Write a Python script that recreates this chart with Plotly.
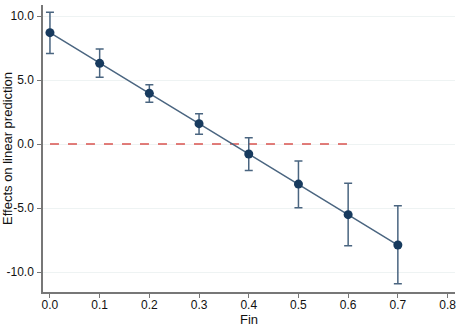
import plotly.graph_objects as go

fin = [0.0, 0.1, 0.2, 0.3, 0.4, 0.5, 0.6, 0.7]
effect = [8.70, 6.30, 3.96, 1.59, -0.78, -3.13, -5.52, -7.89]
ci_upper = [10.30, 7.42, 4.63, 2.37, 0.49, -1.33, -3.07, -4.82]
ci_lower = [7.08, 5.21, 3.26, 0.76, -2.06, -4.97, -7.94, -10.91]
ref_x = [0.0, 0.6]
ref_y = [0.0, 0.0]
x_ticks = [0.0, 0.1, 0.2, 0.3, 0.4, 0.5, 0.6, 0.7, 0.8]
x_labels = ["0.0", "0.1", "0.2", "0.3", "0.4", "0.5", "0.6", "0.7", "0.8"]
y_ticks = [-10, -5, 0, 5, 10]
y_labels = ["-10.0", "-5.0", "0.0", "5.0", "10.0"]

err_plus = [u - e for u, e in zip(ci_upper, effect)]
err_minus = [e - l for e, l in zip(effect, ci_lower)]

fig = go.Figure()
fig.add_trace(go.Scatter(
    x=ref_x, y=ref_y, mode="lines",
    line=dict(color="#d9534f", width=1.5, dash="dash"),
    hoverinfo="skip", showlegend=False))
fig.add_trace(go.Scatter(
    x=fin, y=effect, mode="lines+markers",
    line=dict(color="#4a6580", width=1.5),
    marker=dict(color="#173a5e", size=9),
    error_y=dict(type="data", symmetric=False, array=err_plus, arrayminus=err_minus,
                 color="#4a6580", thickness=1.5, width=4),
    showlegend=False))

fig.update_layout(
    width=460, height=328,
    margin=dict(l=43, r=5, t=5, b=36),
    paper_bgcolor="white", plot_bgcolor="white",
    font=dict(family="Liberation Sans, Arial, sans-serif", size=12, color="#111"),
    xaxis=dict(range=[-0.014, 0.815], tickvals=x_ticks, ticktext=x_labels,
               showgrid=False, zeroline=False, showline=True, linecolor="#777",
               linewidth=1.5, ticks="outside", ticklen=4, tickcolor="#777",
               ticklabelstandoff=-3, automargin=False,
               title=dict(text="Fin", font=dict(size=13), standoff=4)),
    yaxis=dict(range=[-11.56, 10.86], tickvals=y_ticks, ticktext=y_labels,
               showgrid=True, gridcolor="#eef3f3", gridwidth=1.2, zeroline=False,
               showline=True, linecolor="#777", linewidth=1.5, ticks="outside",
               ticklen=4, tickcolor="#777", ticklabelstandoff=1,
               automargin=False,
               title=dict(text="Effects on linear prediction", font=dict(size=13), standoff=2)),
)

fig.write_html("out.html", config={"displayModeBar": False},
               post_script="document.body.style.margin='0';document.body.style.overflow='hidden';")
